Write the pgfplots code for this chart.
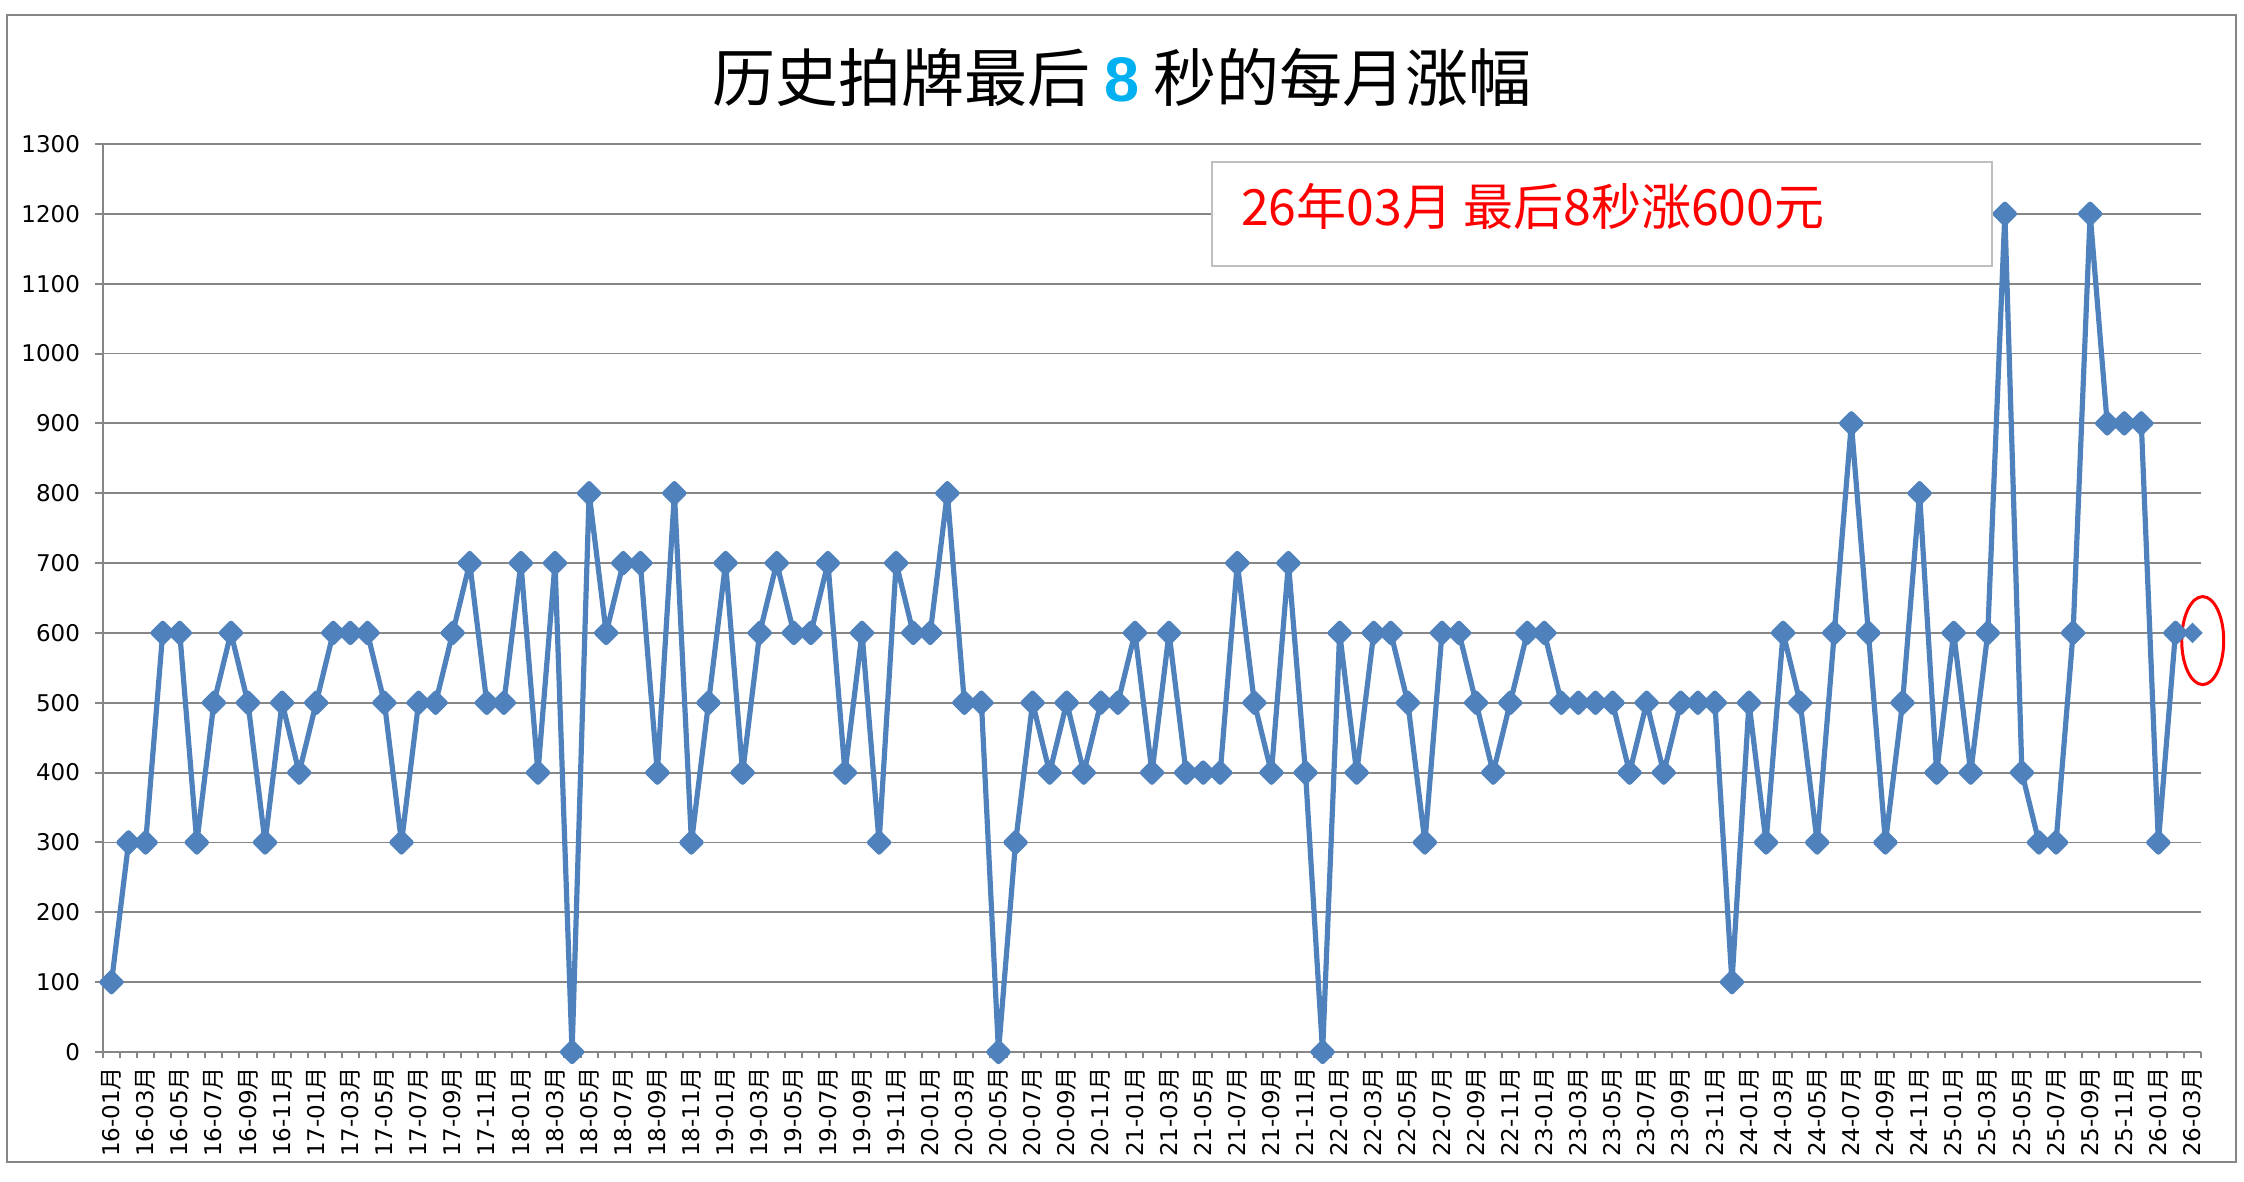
\documentclass[border=0pt]{standalone}
\usepackage{fontspec}
\setmainfont{DejaVu Sans}
\newfontfamily\cjk{Noto Sans CJK SC}
\newfontfamily\latn{Liberation Sans}
\usepackage{pgfplots}
\usepackage{pgfplotstable}
\pgfplotsset{compat=1.18}

\definecolor{exblue}{HTML}{4F81BD}
\definecolor{exgray}{HTML}{868686}
\definecolor{ttlblue}{HTML}{00B0F0}
\definecolor{boxgray}{HTML}{BFBFBF}
\newcommand{\yue}{{\cjk 月}}

% monthly rise in the last 8 seconds, 16-01 (x=0) to 26-02 (x=121)
\pgfplotstableread{
x y
0 100
1 300
2 300
3 600
4 600
5 300
6 500
7 600
8 500
9 300
10 500
11 400
12 500
13 600
14 600
15 600
16 500
17 300
18 500
19 500
20 600
21 700
22 500
23 500
24 700
25 400
26 700
27 0
28 800
29 600
30 700
31 700
32 400
33 800
34 300
35 500
36 700
37 400
38 600
39 700
40 600
41 600
42 700
43 400
44 600
45 300
46 700
47 600
48 600
49 800
50 500
51 500
52 0
53 300
54 500
55 400
56 500
57 400
58 500
59 500
60 600
61 400
62 600
63 400
64 400
65 400
66 700
67 500
68 400
69 700
70 400
71 0
72 600
73 400
74 600
75 600
76 500
77 300
78 600
79 600
80 500
81 400
82 500
83 600
84 600
85 500
86 500
87 500
88 500
89 400
90 500
91 400
92 500
93 500
94 500
95 100
96 500
97 300
98 600
99 500
100 300
101 600
102 900
103 600
104 300
105 500
106 800
107 400
108 600
109 400
110 600
111 1200
112 400
113 300
114 300
115 600
116 1200
117 900
118 900
119 900
120 300
121 600
}\monthly

\begin{document}
\begin{tikzpicture}
\useasboundingbox (0,0) rectangle (1122pt,591pt);
\draw[exgray, line width=1pt] (3.35pt,10pt) rectangle (1118pt,583.5pt);
\node[font=\cjk\fontsize{31.5}{36}\selectfont] at (561pt,552.5pt)
  {历史拍牌最后 {\latn\bfseries\color{ttlblue}8} 秒的每月涨幅};

\begin{axis}[
    at={(51.5pt,65pt)}, anchor=south west,
    scale only axis, width=1049pt, height=454pt,
    xmin=-0.5, xmax=122.5, ymin=0, ymax=1300,
    xtick={0,2,...,122},
    xticklabels={
      16-01\yue,16-03\yue,16-05\yue,16-07\yue,16-09\yue,16-11\yue,
      17-01\yue,17-03\yue,17-05\yue,17-07\yue,17-09\yue,17-11\yue,
      18-01\yue,18-03\yue,18-05\yue,18-07\yue,18-09\yue,18-11\yue,
      19-01\yue,19-03\yue,19-05\yue,19-07\yue,19-09\yue,19-11\yue,
      20-01\yue,20-03\yue,20-05\yue,20-07\yue,20-09\yue,20-11\yue,
      21-01\yue,21-03\yue,21-05\yue,21-07\yue,21-09\yue,21-11\yue,
      22-01\yue,22-03\yue,22-05\yue,22-07\yue,22-09\yue,22-11\yue,
      23-01\yue,23-03\yue,23-05\yue,23-07\yue,23-09\yue,23-11\yue,
      24-01\yue,24-03\yue,24-05\yue,24-07\yue,24-09\yue,24-11\yue,
      25-01\yue,25-03\yue,25-05\yue,25-07\yue,25-09\yue,25-11\yue,
      26-01\yue,26-03\yue},
    minor xtick={-0.5,0.5,...,122.5},
    ytick={0,100,...,1300},
    axis lines=left,
    axis line style={exgray, line width=1pt, -},
    ymajorgrids,
    grid style={exgray, line width=0.9pt},
    tick align=outside,
    tick style={exgray, line width=1pt},
    major tick length=4pt,
    minor tick length=3pt,
    major x tick style={draw=none},
    xticklabel style={rotate=90, anchor=east, font=\fontsize{11.5}{13}\selectfont},
    yticklabel style={font=\fontsize{11.5}{13}\selectfont, xshift=-4pt},
    /pgf/number format/assume math mode=true,
    /pgf/number format/1000 sep={},
    clip=false,
]
\addplot[exblue, line width=2.6pt, line join=round,
    mark=square*, mark size=3.4pt,
    mark options={rotate=45, solid, fill=exblue, draw=none}]
    table[x=x, y=y] {\monthly};
\addplot[exblue, only marks, mark=square*, mark size=3.4pt,
    mark options={rotate=45, fill=exblue, draw=none}]
    coordinates {(122,600)};
\draw[red, line width=1.5pt] (axis cs:122.6,589) ellipse [x radius=10.5pt, y radius=22pt];
\end{axis}

\draw[boxgray, line width=1pt, fill=white] (606pt,458pt) rectangle (996pt,510pt);
\node[anchor=west, text=red, font=\cjk\fontsize{25}{30}\selectfont] at (617pt,488pt)
  {26年03月 最后8秒涨600元};
\end{tikzpicture}
\end{document}
